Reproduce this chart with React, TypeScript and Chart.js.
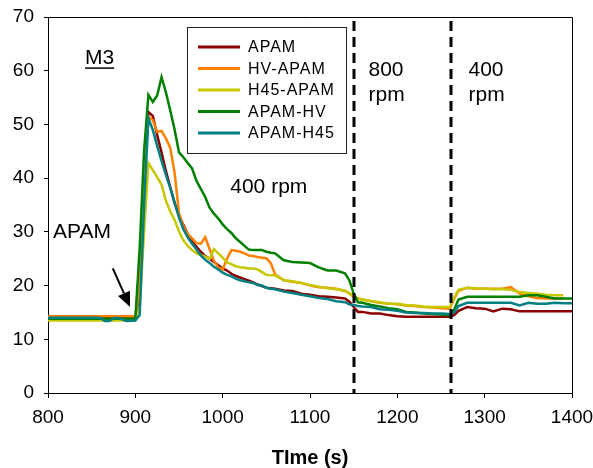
import React, { useEffect, useRef } from "react";
import { Chart, registerables } from "chart.js";

Chart.register(...registerables);

const FONT = "'Liberation Sans', Arial, sans-serif";

const times = [
  800, 820, 840, 860, 865, 870, 875, 880, 890, 900,
  905, 910, 915, 920, 925, 930, 935, 940, 945, 950,
  955, 960, 965, 970, 975, 980, 985, 990, 995, 1000,
  1005, 1010, 1015, 1020, 1025, 1030, 1035, 1040, 1045, 1050,
  1055, 1060,
  1070, 1080, 1090, 1100, 1110, 1120, 1130, 1140,
  1145, 1150, 1155,
  1160, 1170, 1180, 1190, 1200, 1210, 1220, 1230, 1240, 1250, 1260,
  1265,
  1270, 1280, 1290, 1300, 1310, 1320, 1330, 1340, 1350, 1360, 1370, 1380, 1390, 1400,
];

const apam = [
  13.9, 13.9, 13.9, 13.9, 13.9, 13.9, 13.9, 13.9, 13.9, 13.9,
  18, 40, 52.3, 51.6, 48, 44.8, 41.3, 38.3, 35.3, 33,
  31.3, 29.6, 28.2, 27.2, 26.3, 25.5, 25.0, 24.4, 23.8, 23.2,
  22.8, 22.2, 21.8, 21.5, 21.2, 20.9, 20.6, 20.2, 19.9, 19.6,
  19.5, 19.4,
  19.1, 19.0, 18.5, 18.3, 18.0, 17.9, 17.8, 17.6,
  17.0, 16.0, 15.1,
  15.1, 14.8, 14.8, 14.5, 14.3, 14.2, 14.2, 14.2, 14.2, 14.2, 14.2,
  14.5,
  15.3, 16.0, 15.8, 15.7, 15.2, 15.7, 15.6, 15.2, 15.2, 15.2, 15.2, 15.2, 15.2, 15.2,
];

const hvApam = [
  14.3, 14.3, 14.3, 14.3, 14.3, 14.3, 14.3, 14.3, 14.3, 14.3,
  20, 42, 51.5, 50.8, 48.6, 48.8, 47.4, 45.6, 41, 33.5,
  31, 29.6, 28.8, 27.9, 27.8, 29.0, 26.8, 24.6, 23.4, 23.0,
  25.0, 26.6, 26.5, 26.3, 26.0, 25.6, 25.5, 25.3, 25.2, 25.1,
  24.2, 22.1,
  21.0, 20.7, 20.5, 20.0, 19.7, 19.6, 19.4, 19.0,
  18.6, 18.0, 17.6,
  17.4, 17.1, 16.8, 16.6, 16.5, 16.3, 16.2, 16.0, 15.9, 15.8, 15.7,
  17.5,
  19.0, 19.6, 19.4, 19.4, 19.4, 19.4, 19.7, 18.5, 18.0, 17.7, 17.6, 17.6, 17.6, null,
];

const h45Apam = [
  13.5, 13.5, 13.5, 13.5, 13.5, 13.5, 13.5, 13.5, 13.5, 13.5,
  16, 30, 42.8, 41.5, 40.2, 38.8, 35.8, 33.8, 32.2, 30.1,
  28.4, 27.4, 26.6, 26.0, 25.7, 25.4, 25.0, 26.8, 26.0, 25.2,
  24.3, 24.0, 23.6, 23.4, 23.3, 23.2, 23.2, 23.0, 22.5, 22.0,
  21.9, 21.9,
  21.0, 20.8, 20.5, 20.1, 19.8, 19.5, 19.3, 19.1,
  18.5, 17.9, 17.6,
  17.4, 17.1, 16.9, 16.6, 16.6, 16.4, 16.3, 16.1, 16.0, 16.0, 16.0,
  17.8,
  19.2, 19.6, 19.5, 19.4, 19.3, 19.3, 19.2, 18.8, 18.6, 18.5, 18.3, 18.2, 18.2, null,
];

const apamHv = [
  13.8, 13.8, 13.8, 13.8, 13.8, 13.8, 13.8, 13.8, 13.8, 13.8,
  27, 45, 55.5, 54.2, 55.4, 58.8, 56.0, 52.6, 49.0, 44.8,
  43.9, 42.8, 41.8, 39.5, 38.0, 36.5, 34.5, 33.4, 32.5, 31.4,
  30.5, 29.8, 28.8, 28.1, 27.4, 26.7, 26.6, 26.6, 26.6, 26.3,
  26.1, 26.0,
  24.7, 24.4, 24.3, 24.2, 23.4, 22.8, 22.8, 22.3,
  21.0, 18.5, 16.9,
  16.8, 16.4, 16.1, 15.8, 15.6, 15.1, 15.0, 14.8, 14.7, 14.6, 14.5,
  15.5,
  17.4, 17.9, 17.9, 17.9, 17.9, 17.9, 17.9, 17.9, 18.2, 18.2, 17.9, 17.6, 17.6, 17.6,
];

const apamH45 = [
  14.0, 14.0, 14.0, 14.0, 13.4, 13.4, 13.9, 14.0, 13.4, 13.5,
  14.5, 35, 51.1, 49.0, 46.0, 43.2, 40.6, 38.2, 35.5, 32.7,
  30.5, 29.0, 27.8, 26.7, 25.6, 24.8, 24.2, 23.5, 23.0, 22.4,
  22.0, 21.7, 21.3, 21.0, 20.8, 20.6, 20.5, 20.1, 20.0, 19.6,
  19.4, 19.3,
  18.9, 18.6, 18.3, 18.0, 17.7, 17.5, 17.1, 16.9,
  16.5, 16.4, 16.2,
  16.1, 16.0, 15.6, 15.5, 15.3, 15.0, 14.9, 14.9, 14.8, 14.8, 14.7,
  15.0,
  16.2, 16.8, 16.8, 16.8, 16.8, 16.8, 16.8, 16.3, 16.8, 16.6, 16.6, 16.8, 16.7, 16.7,
];

const seriesNames = ["APAM", "HV-APAM", "H45-APAM", "APAM-HV", "APAM-H45"];
const seriesValues = [apam, hvApam, h45Apam, apamHv, apamH45];
const seriesColors = ["#8B0000", "#FF8000", "#C8C800", "#008000", "#008080"];

const xTicks = [800, 900, 1000, 1100, 1200, 1300, 1400];
const speedChanges = [1150, 1262];

const annotationTexts = [
  { text: "M3", t: 842.4, v: 62.3, underline: true },
  { text: "400 rpm", t: 1008.7, v: 38.3 },
  { text: "800", t: 1167, v: 60.1 },
  { text: "rpm", t: 1167, v: 55.4 },
  { text: "400", t: 1281.5, v: 60.1 },
  { text: "rpm", t: 1281.5, v: 55.4 },
  { text: "APAM", t: 805.7, v: 29.9 },
];
const arrowFrom = { t: 874.2, v: 23.2 };
const arrowTo = { t: 894, v: 16.0 };

const overlayPlugin = {
  id: "overlay",
  afterDatasetsDraw(chart: any) {
    const { ctx, chartArea, scales } = chart;
    const xs = scales.x;
    ctx.save();
    ctx.strokeStyle = "#000";
    ctx.lineWidth = 3;
    ctx.setLineDash([10, 6]);
    for (const t of speedChanges) {
      const px = Math.round(xs.getPixelForValue(t));
      ctx.beginPath();
      ctx.moveTo(px, chartArea.top + 4);
      ctx.lineTo(px, chartArea.bottom);
      ctx.stroke();
    }
    ctx.restore();
  },
  afterDraw(chart: any) {
    const { ctx, chartArea, scales } = chart;
    const xs = scales.x;
    const ys = scales.y;
    ctx.save();
    // box top & right
    ctx.strokeStyle = "#000";
    ctx.lineWidth = 1;
    ctx.beginPath();
    ctx.moveTo(chartArea.left, chartArea.top + 0.5);
    ctx.lineTo(chartArea.right + 0.5, chartArea.top + 0.5);
    ctx.lineTo(chartArea.right + 0.5, chartArea.bottom);
    ctx.stroke();

    // annotations
    ctx.fillStyle = "#000";
    ctx.font = `21px ${FONT}`;
    ctx.textBaseline = "middle";
    ctx.textAlign = "left";
    for (const a of annotationTexts) {
      const px = xs.getPixelForValue(a.t);
      const py = ys.getPixelForValue(a.v);
      ctx.fillText(a.text, px, py);
      if (a.underline) {
        const w = ctx.measureText(a.text).width;
        ctx.fillRect(px, py + 9, w, 1.5);
      }
    }

    // arrow
    const x1 = xs.getPixelForValue(arrowFrom.t);
    const y1 = ys.getPixelForValue(arrowFrom.v);
    const x2 = xs.getPixelForValue(arrowTo.t);
    const y2 = ys.getPixelForValue(arrowTo.v);
    const ang = Math.atan2(y2 - y1, x2 - x1);
    const headLen = 15;
    const headW = 6.5;
    const bx = x2 - headLen * Math.cos(ang);
    const by = y2 - headLen * Math.sin(ang);
    ctx.lineWidth = 2;
    ctx.beginPath();
    ctx.moveTo(x1, y1);
    ctx.lineTo(bx, by);
    ctx.stroke();
    ctx.beginPath();
    ctx.moveTo(x2, y2);
    ctx.lineTo(bx + headW * Math.sin(ang), by - headW * Math.cos(ang));
    ctx.lineTo(bx - headW * Math.sin(ang), by + headW * Math.cos(ang));
    ctx.closePath();
    ctx.fill();

    // legend
    const lx = 187.5, ly = 27.5, lw = 159, lh = 126;
    ctx.fillStyle = "#fff";
    ctx.fillRect(lx, ly, lw, lh);
    ctx.strokeStyle = "#222";
    ctx.lineWidth = 1;
    ctx.strokeRect(lx, ly, lw, lh);
    ctx.font = `16px ${FONT}`;
    ctx.textBaseline = "middle";
    (ctx as any).letterSpacing = "1px";
    seriesNames.forEach((name, i) => {
      const y = 47 + i * 21.5;
      ctx.strokeStyle = seriesColors[i];
      ctx.lineWidth = 3;
      ctx.beginPath();
      ctx.moveTo(198, y);
      ctx.lineTo(240, y);
      ctx.stroke();
      ctx.fillStyle = "#000";
      ctx.fillText(name, 248, y + 1);
    });
    (ctx as any).letterSpacing = "0px";

    // x axis title
    ctx.font = `bold 20px ${FONT}`;
    ctx.textAlign = "center";
    ctx.textBaseline = "middle";
    ctx.fillStyle = "#000";
    ctx.fillText("TIme (s)", (chartArea.left + chartArea.right) / 2, 458);
    ctx.restore();
  },
};

export default function App() {
  const ref = useRef<HTMLCanvasElement | null>(null);
  useEffect(() => {
    if (!ref.current) return;
    const chart = new Chart(ref.current, {
      type: "line",
      data: {
        datasets: seriesNames.map((name, i) => ({
          label: name,
          data: times.map((t, j) => ({ x: t, y: seriesValues[i][j] })),
          borderColor: seriesColors[i],
          backgroundColor: seriesColors[i],
          borderWidth: 2.5,
          pointRadius: 0,
          tension: 0,
          spanGaps: false,
          order: seriesNames.length - i,
        })),
      },
      options: {
        animation: false,
        responsive: false,
        layout: { padding: { top: 17, right: 21, left: 0, bottom: 0 } },
        plugins: { legend: { display: false }, tooltip: { enabled: false } },
        scales: {
          x: {
            type: "linear",
            min: 800,
            max: 1400,
            afterBuildTicks: (s: any) => {
              s.ticks = xTicks.map((v) => ({ value: v }));
            },
            afterFit: (s: any) => {
              s.height = 75;
              s.paddingLeft = 0;
              s.paddingRight = 0;
            },
            ticks: {
              color: "#000",
              font: { family: FONT, size: 19 },
              padding: 8,
              maxRotation: 0,
              autoSkip: false,
              callback: (v: any) => String(v),
            },
            grid: { drawOnChartArea: false, tickLength: 5, color: "#000" },
            border: { color: "#000", width: 1 },
          },
          y: {
            min: 0,
            max: 70,
            afterFit: (s: any) => {
              s.width = 48;
              s.paddingTop = 0;
              s.paddingBottom = 0;
            },
            ticks: {
              stepSize: 10,
              color: "#000",
              font: { family: FONT, size: 19 },
              padding: 10,
              callback: (v: any) => String(v),
            },
            grid: { drawOnChartArea: false, tickLength: 4, color: "#000" },
            border: { color: "#000", width: 1 },
          },
        },
      },
      plugins: [overlayPlugin],
    });
    return () => chart.destroy();
  }, []);
  return (
    <div style={{ position: "fixed", left: 0, top: 0, width: 593, height: 468, background: "#fff" }}>
      <canvas ref={ref} width={593} height={468} style={{ display: "block" }} />
    </div>
  );
}
